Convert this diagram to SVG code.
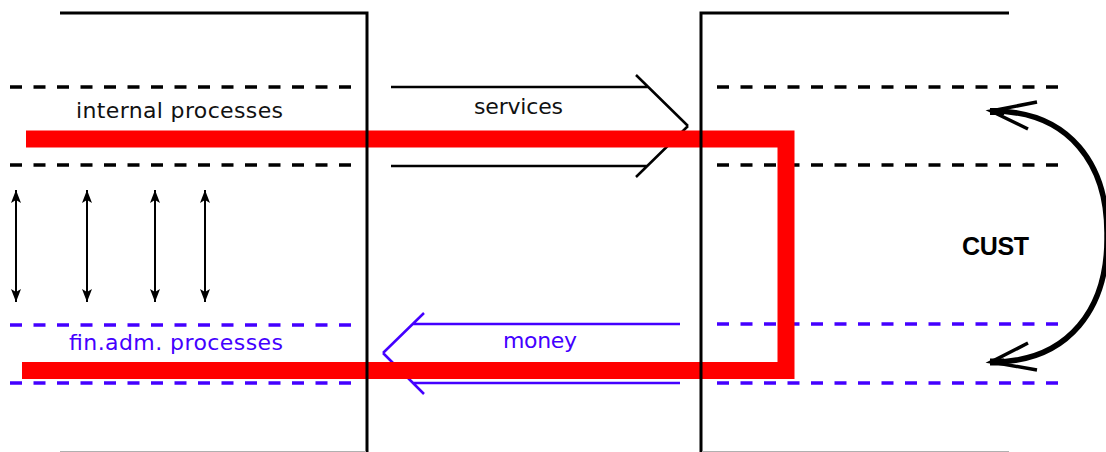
<svg xmlns="http://www.w3.org/2000/svg" width="1106" height="452" viewBox="0 0 1106 452">
<style>
.box{fill:none;stroke:#000;stroke-width:3}
.boxb{fill:none;stroke:#b0b0b0;stroke-width:1}
.dk{fill:none;stroke:#000;stroke-width:3.5;stroke-dasharray:12 11.5}
.db{fill:none;stroke:#4400ff;stroke-width:3.5;stroke-dasharray:12 11.5}
.t{font-family:"DejaVu Sans",sans-serif;font-size:22px}
.k{fill:#111}
.b{fill:#4400ff}
.arrk{fill:none;stroke:#000;stroke-width:2.5}
.arrb{fill:none;stroke:#4400ff;stroke-width:2.5}
.dbl{stroke:#000;stroke-width:2;marker-start:url(#tip);marker-end:url(#tip)}
</style>
<defs>
<marker id="tip" markerUnits="userSpaceOnUse" markerWidth="16" markerHeight="12" viewBox="-15 -6 16 12" refX="0" refY="0" orient="auto-start-reverse">
<path d="M0,0 L-13,-5 L-10,0 L-13,5 Z" fill="#000"/>
</marker>
</defs>
<g id="lanes">
<path class="dk" d="M10,87 H352 M10,165 H352 M717,87 H1059 M717,165 H1059"/>
<path class="db" d="M10,325 H352 M10,383 H352 M717,324 H1059 M717,383 H1059"/>
</g>
<g id="labels">
<text class="t k" x="76" y="118" textLength="207" lengthAdjust="spacing">internal processes</text>
<text class="t b" x="69" y="350" textLength="214" lengthAdjust="spacing">fin.adm. processes</text>
<text class="t k" x="474" y="114" textLength="89" lengthAdjust="spacing">services</text>
<text class="t b" x="503" y="348" textLength="74" lengthAdjust="spacing">money</text>
</g>
<g id="connectors">
<g id="services-arrow" class="arrk">
<path d="M391,87 H648 M636,75 L688,126 M391,166 H648 M636,177 L688,126"/>
</g>
<g id="money-arrow" class="arrb">
<path d="M680,324 H413 M424,313 L383,353 M680,383 H413 M424,394 L383,353"/>
</g>
<g id="sync-arrows">
<line class="dbl" x1="16" y1="190" x2="16" y2="302"/>
<line class="dbl" x1="87" y1="190" x2="87" y2="302"/>
<line class="dbl" x1="155" y1="190" x2="155" y2="302"/>
<line class="dbl" x1="205" y1="190" x2="205" y2="302"/>
</g>
<g id="cust-arrow">
<path d="M992,111 C1070,111 1108,165 1107,236 C1108,307 1070,362 992,362" fill="none" stroke="#000" stroke-width="5.5"/>
<path d="M1037,102 L991,111 L1028,129 M1028,343 L991,362 L1037,370" fill="none" stroke="#000" stroke-width="3.5"/>
<path d="M990,108 h14 v7 h-14 z M990,358.5 h14 v7 h-14 z" fill="#000"/>
</g>
<path id="red-loop" d="M26,139 H786 V370.5 H22" fill="none" stroke="#ff0000" stroke-width="17" stroke-linejoin="miter"/>
</g>
<g id="org-left">
<path class="box" d="M60,13 H367 V452"/>
<path class="boxb" d="M60,451.5 H366"/>
</g>
<g id="org-right">
<path class="box" d="M1009,13 H701 V452"/>
<path class="boxb" d="M702,451.5 H1009"/>
</g>
<g id="cust">
<text x="962" y="255" font-family="'Liberation Sans',Arial,sans-serif" font-size="25" font-weight="bold" fill="#000" textLength="67" lengthAdjust="spacing">CUST</text>
</g>
</svg>
